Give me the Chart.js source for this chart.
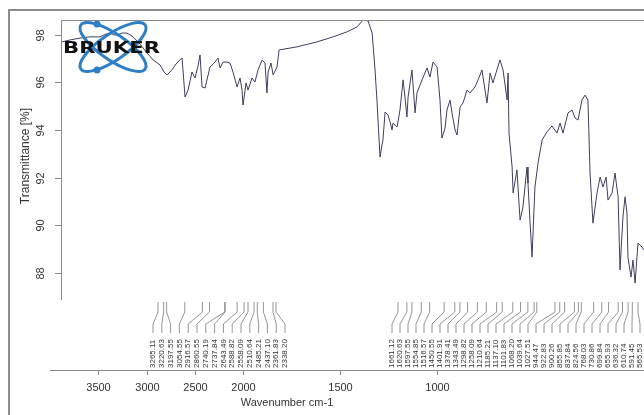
<!DOCTYPE html>
<html>
<head>
<meta charset="utf-8">
<script src="https://cdn.jsdelivr.net/npm/chart.js@4"></script>
<style>
  html, body { margin: 0; padding: 0; background: #fff; overflow: hidden; }
  canvas { display: block; }
</style>
</head>
<body>
<canvas id="spectrum" width="644" height="415"></canvas>
<script>
// IR spectrum, transmittance vs wavenumber (axis is compressed x2 above 2000 cm-1)
const wavenumbers = [
  3875, 3793, 3689, 3586, 3482, 3420, 3379, 3338, 3307, 3255,
  3203, 3141, 3069, 2996, 2934, 2862, 2820, 2789, 2738, 2696,
  2655, 2634, 2603, 2572, 2531, 2500, 2469, 2448, 2427, 2396,
  2345, 2293, 2262, 2241, 2210, 2169, 2138, 2107, 2065, 2034,
  2014, 2003, 1986, 1976, 1955, 1940, 1924, 1903, 1888, 1878,
  1872, 1857, 1846, 1826, 1815, 1722, 1619, 1536, 1464, 1412,
  1381, 1355, 1334, 1319, 1309, 1298, 1293, 1283, 1278, 1267,
  1252, 1241, 1231, 1226, 1205, 1190, 1174, 1164, 1154, 1148,
  1128, 1112, 1102, 1076, 1050, 1035, 1019, 998, 983, 973,
  957, 947, 931, 921, 905, 895, 879, 864, 843, 828,
  802, 786, 766, 740, 724, 709, 673, 657, 636, 631,
  626, 610, 605, 585, 569, 554, 533, 528, 517, 507,
  492, 476, 455, 430, 404, 378, 362, 347, 321, 300,
  285, 269, 249, 233, 218, 207, 192, 171, 155, 140,
  124, 114, 93, 78, 62, 52, 37, 26, 16, 11,
  -5, -15, -26, -41, -62, -72
];
const transmittance = [
  97.71, 97.79, 97.87, 97.92, 97.92, 98.04, 98.08, 98.00, 98.00, 98.08,
  98.08, 97.92, 97.62, 97.24, 96.95, 96.74, 96.44, 96.32, 96.53, 96.78,
  96.95, 97.03, 95.39, 95.68, 96.44, 96.19, 96.69, 97.16, 95.81, 95.77,
  96.65, 96.86, 97.03, 96.61, 96.86, 96.86, 96.82, 96.44, 95.81, 96.19,
  95.68, 95.05, 95.98, 95.68, 96.19, 96.02, 96.53, 96.95, 96.82, 95.56,
  96.44, 96.82, 96.32, 96.65, 97.37, 97.50, 97.71, 97.92, 98.13, 98.34,
  98.63, 98.59, 98.08, 96.53, 95.26, 93.58, 92.86, 93.37, 93.58, 94.76,
  94.63, 94.34, 94.00, 94.29, 94.13, 94.84, 96.11, 95.39, 94.55, 95.39,
  96.53, 94.72, 95.56, 96.11, 96.61, 96.23, 96.86, 96.65, 95.26, 93.66,
  94.08, 94.84, 95.26, 94.72, 94.00, 93.79, 94.97, 95.14, 95.68, 95.56,
  95.81, 96.11, 96.53, 95.14, 96.40, 95.98, 96.95, 96.53, 95.26, 96.40,
  93.87, 92.44, 91.35, 92.32, 90.21, 90.76, 92.44, 91.77, 90.08, 88.65,
  91.60, 92.61, 93.58, 93.92, 94.17, 93.87, 94.29, 93.87, 94.72, 94.84,
  94.51, 94.42, 95.26, 95.47, 95.26, 92.19, 90.08, 91.35, 92.02, 91.60,
  92.02, 91.05, 91.35, 92.19, 91.19, 88.11, 90.34, 91.19, 90.51, 88.65,
  87.81, 88.53, 87.56, 89.24, 89.07, 88.95
];
const xTicks = [3500, 3000, 2500, 2000, 1500, 1000];
const yTicks = [88, 90, 92, 94, 96, 98];
const peaksHigh = [3265.11, 3220.63, 3197.55, 3054.55, 2916.57, 2860.55, 2740.19, 2737.84,
  2643.49, 2588.82, 2558.09, 2510.64, 2485.21, 2437.10, 2361.83, 2338.20];
const peaksLow = [1661.12, 1620.63, 1597.55, 1554.85, 1516.57, 1450.55, 1401.91, 1378.41,
  1343.49, 1298.82, 1258.09, 1210.64, 1185.21, 1137.10, 1101.83, 1068.20, 1039.64, 1027.51,
  944.47, 922.83, 900.26, 855.85, 837.84, 824.56, 768.03, 730.86, 699.84, 655.93, 636.32,
  610.74, 591.45, 565.53];

const X_FROM = 3886, X_TO = -72;
const Y_MIN = 83.9, Y_MAX = 98.63;
const FONT = '"Liberation Sans", Arial, sans-serif';

// position along the axis: 4000-2000 takes half the room of 2000-0
function toPos(wn) {
  return wn >= 2000 ? (4000 - wn) / 2 : 3000 - wn;
}

function drawPeakGroup(ctx, peaks, x0, x1, t0, t1) {
  const n = peaks.length;
  const first = peaks[0], last = peaks[n - 1];
  ctx.strokeStyle = '#7a7a7a';
  ctx.lineWidth = 0.8;
  ctx.fillStyle = '#333';
  ctx.font = '8px ' + FONT;
  peaks.forEach((v, i) => {
    const lx = x0 + i * (x1 - x0) / (n - 1);
    const tx = t0 + (first - v) / (first - last) * (t1 - t0);
    ctx.beginPath();
    ctx.moveTo(lx, 333);
    ctx.lineTo(lx, 324);
    ctx.lineTo(tx, 312);
    ctx.lineTo(tx, 302);
    ctx.stroke();
    ctx.save();
    ctx.translate(lx, 368);
    ctx.rotate(-Math.PI / 2);
    ctx.textAlign = 'left';
    ctx.textBaseline = 'middle';
    ctx.fillText(v.toFixed(2), 0, 0);
    ctx.restore();
  });
}

function drawLogo(ctx) {
  ctx.save();
  ctx.strokeStyle = '#2d7fc6';
  ctx.lineWidth = 3;
  ctx.beginPath();
  ctx.ellipse(113, 47, 39, 13, 0.6, 0, Math.PI * 2);
  ctx.stroke();
  ctx.beginPath();
  ctx.ellipse(113, 47, 39, 13, -0.6, 0, Math.PI * 2);
  ctx.stroke();
  ctx.fillStyle = '#2d7fc6';
  [[97, 24], [97, 70]].forEach(([cx, cy]) => {
    ctx.beginPath();
    ctx.arc(cx, cy, 3.5, 0, Math.PI * 2);
    ctx.fill();
  });
  ctx.font = 'bold 16px "DejaVu Sans", sans-serif';
  ctx.textAlign = 'left';
  ctx.textBaseline = 'middle';
  const w = ctx.measureText('BRUKER').width;
  ctx.translate(63, 48);
  ctx.scale(97 / w, 1);
  ctx.fillStyle = '#111';
  ctx.fillText('BRUKER', 0, 1);
  ctx.restore();
}

const frame = {
  id: 'frame',
  afterDatasetsDraw(chart) {
    const { ctx, chartArea: a, scales: { x, y } } = chart;
    ctx.save();

    // outer frame
    ctx.strokeStyle = '#8c8c8c';
    ctx.lineWidth = 2;
    ctx.beginPath();
    ctx.moveTo(9, 415);
    ctx.lineTo(9, 10);
    ctx.lineTo(644, 10);
    ctx.stroke();

    // plot box, top and left
    ctx.lineWidth = 1;
    ctx.strokeStyle = '#8a8a8a';
    ctx.beginPath();
    ctx.moveTo(a.left + 0.5, 300);
    ctx.lineTo(a.left + 0.5, a.top + 0.5);
    ctx.lineTo(a.right, a.top + 0.5);
    ctx.stroke();

    // x axis
    ctx.beginPath();
    ctx.moveTo(50, a.bottom + 0.5);
    ctx.lineTo(a.right, a.bottom + 0.5);
    ctx.stroke();
    ctx.fillStyle = '#333';
    ctx.font = '11px ' + FONT;
    ctx.textAlign = 'center';
    ctx.textBaseline = 'middle';
    xTicks.forEach(t => {
      const px = Math.round(x.getPixelForValue(toPos(t))) + 0.5;
      ctx.beginPath();
      ctx.moveTo(px, a.bottom);
      ctx.lineTo(px, a.bottom + 5);
      ctx.stroke();
      ctx.fillText(String(t), px, a.bottom + 18);
    });
    ctx.fillText('Wavenumber cm-1', 287, 403);

    // y axis ticks and rotated labels
    yTicks.forEach(t => {
      const py = Math.round(y.getPixelForValue(t)) + 0.5;
      ctx.beginPath();
      ctx.moveTo(a.left - 6, py);
      ctx.lineTo(a.left, py);
      ctx.stroke();
      ctx.save();
      ctx.translate(41, py);
      ctx.rotate(-Math.PI / 2);
      ctx.fillText(String(t), 0, 0);
      ctx.restore();
    });
    ctx.save();
    ctx.font = '12px ' + FONT;
    ctx.translate(26, 156);
    ctx.rotate(-Math.PI / 2);
    ctx.fillText('Transmittance [%]', 0, 0);
    ctx.restore();

    drawPeakGroup(ctx, peaksHigh, 153, 285, 158, 276);
    drawPeakGroup(ctx, peaksLow, 392, 640, 398, 638);
    drawLogo(ctx);
    ctx.restore();
  }
};

new Chart(document.getElementById('spectrum'), {
  type: 'line',
  data: {
    datasets: [{
      data: wavenumbers.map((w, i) => ({ x: toPos(w), y: transmittance[i] })),
      borderColor: '#3e3e5e',
      borderWidth: 1,
      pointRadius: 0,
      tension: 0,
      fill: false
    }]
  },
  options: {
    responsive: false,
    animation: false,
    devicePixelRatio: 1,
    layout: { padding: { left: 61, top: 20, right: 0, bottom: 45 } },
    scales: {
      x: { type: 'linear', min: toPos(X_FROM), max: toPos(X_TO), display: false },
      y: { min: Y_MIN, max: Y_MAX, display: false }
    },
    plugins: { legend: { display: false }, tooltip: { enabled: false } }
  },
  plugins: [frame]
});
</script>
</body>
</html>
